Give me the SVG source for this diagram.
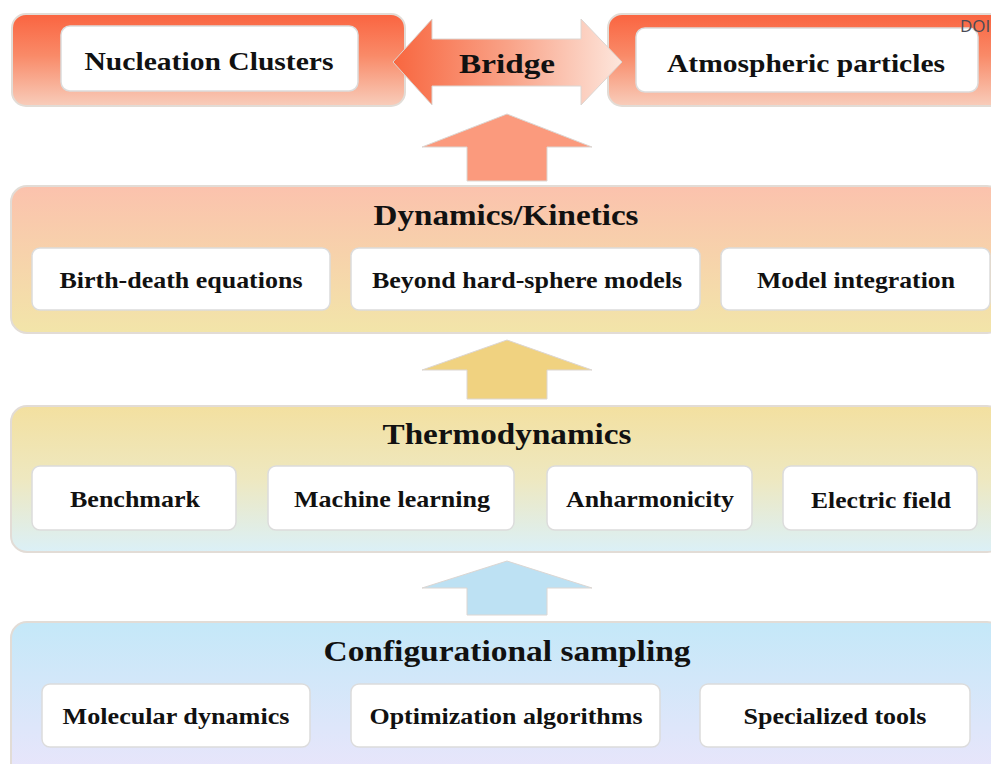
<svg xmlns="http://www.w3.org/2000/svg" width="991" height="764" viewBox="0 0 991 764">
<defs>
<linearGradient id="gTop" x1="0" y1="0" x2="0" y2="1">
<stop offset="0" stop-color="#fa6440"/>
<stop offset="0.45" stop-color="#f98a68"/>
<stop offset="1" stop-color="#f8cdbb"/>
</linearGradient>
<linearGradient id="gBridge" x1="0" y1="0" x2="1" y2="0">
<stop offset="0" stop-color="#f8663f"/>
<stop offset="0.5" stop-color="#f9a287"/>
<stop offset="1" stop-color="#fde6dc"/>
</linearGradient>
<linearGradient id="gDyn" x1="0" y1="0" x2="0" y2="1">
<stop offset="0" stop-color="#fbc2ad"/>
<stop offset="1" stop-color="#f2e5a9"/>
</linearGradient>
<linearGradient id="gThermo" x1="0" y1="0" x2="0" y2="1">
<stop offset="0" stop-color="#f3e0a0"/>
<stop offset="0.5" stop-color="#eee8c0"/>
<stop offset="1" stop-color="#dbf0f7"/>
</linearGradient>
<linearGradient id="gConf" x1="0" y1="0" x2="0" y2="1">
<stop offset="0" stop-color="#c4e8f8"/>
<stop offset="1" stop-color="#ebe5fb"/>
</linearGradient>
<style>
.panel{stroke:#e2dcd6;stroke-width:2}
.box{fill:#ffffff;stroke:#dcdcdc;stroke-width:1.5}
.t{font-family:"Liberation Serif","Times New Roman",serif;font-weight:bold;fill:#111;text-anchor:middle}
.sub{font-size:23px}
.title{font-size:29px}
.arrow{stroke:#dcd6d2;stroke-width:1}
</style>
</defs>
<rect width="991" height="764" fill="#ffffff"/>

<g id="nucleation-clusters">
<rect class="panel" x="12" y="14" width="393" height="92" rx="14" fill="url(#gTop)"/>
<rect class="box" x="61" y="26" width="297" height="65" rx="9"/>
<text class="t" x="209" y="70" textLength="249" lengthAdjust="spacingAndGlyphs" style="font-size:25px">Nucleation Clusters</text>
</g>

<g id="atmospheric-particles">
<rect class="panel" x="608" y="14" width="400" height="92" rx="14" fill="url(#gTop)"/>
<rect class="box" x="636" y="28" width="342" height="64" rx="9"/>
<text class="t" x="806" y="72" textLength="278" lengthAdjust="spacingAndGlyphs" style="font-size:25px">Atmospheric particles</text>
<text x="960" y="32" font-family="Open Sans, Liberation Sans, sans-serif" font-size="17" fill="#4a4a55">DOI</text>
</g>

<g id="connectors">
<path id="bridge" class="arrow" d="M393,62 L432,19 L432,39 L581,39 L581,19 L622,62 L581,105 L581,86 L432,86 L432,105 Z" fill="url(#gBridge)"/>
<path class="arrow" d="M507,114 L592,147 L547,147 L547,181 L467,181 L467,147 L422,147 Z" fill="#fb9a7d"/>
<path class="arrow" d="M507,340 L592,370 L547,370 L547,399 L467,399 L467,370 L422,370 Z" fill="#f0d280"/>
<path class="arrow" d="M507,561 L592,588 L547,588 L547,615 L467,615 L467,588 L422,588 Z" fill="#bde1f3"/>
</g>
<text class="t" x="507" y="73" textLength="96" lengthAdjust="spacingAndGlyphs" style="font-size:28px">Bridge</text>

<g id="dynamics-kinetics">
<rect class="panel" x="11" y="186" width="992" height="147" rx="16" fill="url(#gDyn)"/>
<text class="t title" x="506" y="225" textLength="265" lengthAdjust="spacingAndGlyphs">Dynamics/Kinetics</text>
<g id="birth-death">
<rect class="box" x="32" y="248" width="298" height="62" rx="8"/>
<text class="t sub" x="181" y="288" textLength="243" lengthAdjust="spacingAndGlyphs">Birth-death equations</text>
</g>
<g id="hard-sphere">
<rect class="box" x="351" y="248" width="349" height="62" rx="8"/>
<text class="t sub" x="527" y="288" textLength="310" lengthAdjust="spacingAndGlyphs">Beyond hard-sphere models</text>
</g>
<g id="model-integration">
<rect class="box" x="721" y="248" width="269" height="62" rx="8"/>
<text class="t sub" x="856" y="288" textLength="198" lengthAdjust="spacingAndGlyphs">Model integration</text>
</g>
</g>

<g id="thermodynamics">
<rect class="panel" x="11" y="406" width="992" height="146" rx="16" fill="url(#gThermo)"/>
<text class="t title" x="507" y="444" textLength="249" lengthAdjust="spacingAndGlyphs">Thermodynamics</text>
<g id="benchmark">
<rect class="box" x="32" y="466" width="204" height="64" rx="8"/>
<text class="t sub" x="135" y="507" textLength="130" lengthAdjust="spacingAndGlyphs">Benchmark</text>
</g>
<g id="machine-learning">
<rect class="box" x="268" y="466" width="246" height="64" rx="8"/>
<text class="t sub" x="392" y="507" textLength="196" lengthAdjust="spacingAndGlyphs">Machine learning</text>
</g>
<g id="anharmonicity">
<rect class="box" x="547" y="466" width="205" height="64" rx="8"/>
<text class="t sub" x="650" y="507" textLength="168" lengthAdjust="spacingAndGlyphs">Anharmonicity</text>
</g>
<g id="electric-field">
<rect class="box" x="783" y="466" width="194" height="64" rx="8"/>
<text class="t sub" x="881" y="508" textLength="140" lengthAdjust="spacingAndGlyphs">Electric field</text>
</g>
</g>

<g id="configurational-sampling">
<rect class="panel" x="11" y="622" width="992" height="160" rx="16" fill="url(#gConf)"/>
<text class="t title" x="507" y="661" textLength="367" lengthAdjust="spacingAndGlyphs">Configurational sampling</text>
<g id="molecular-dynamics">
<rect class="box" x="42" y="684" width="268" height="63" rx="8"/>
<text class="t sub" x="176" y="724" textLength="227" lengthAdjust="spacingAndGlyphs">Molecular dynamics</text>
</g>
<g id="optimization">
<rect class="box" x="351" y="684" width="309" height="63" rx="8"/>
<text class="t sub" x="506" y="724" textLength="273" lengthAdjust="spacingAndGlyphs">Optimization algorithms</text>
</g>
<g id="specialized-tools">
<rect class="box" x="700" y="684" width="270" height="63" rx="8"/>
<text class="t sub" x="835" y="724" textLength="183" lengthAdjust="spacingAndGlyphs">Specialized tools</text>
</g>
</g>
</svg>
